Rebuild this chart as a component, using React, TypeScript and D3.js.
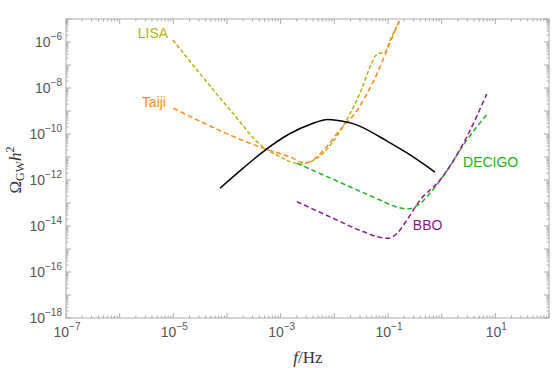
import React from 'react';
import * as d3 from 'd3';

// sensitivity curves, Omega_GW h^2 vs f [Hz]
const lisaF = [9.8e-6, 1.15e-4, 4.7e-4, 1e-3, 1.48e-3, 2.24e-3, 3.16e-3, 6.2e-3, 1.7e-2, 3.0e-2, 5.0e-2, 6.0e-2, 7.4e-2, 8.7e-2, 0.11, 0.166, 0.2];
const lisaOmega = [1.23e-6, 1.1e-9, 2.7e-11, 1e-11, 6.3e-12, 5.0e-12, 5.6e-12, 1.48e-11, 4.1e-10, 6.0e-9, 1.23e-7, 2.7e-7, 3.3e-7, 3.5e-7, 1.23e-6, 9.1e-6, 2.5e-5];

const taijiF = [1e-5, 4.7e-4, 1e-3, 1.48e-3, 2.8e-3, 3.5e-3, 7.2e-3, 1.26e-2, 2.6e-2, 3.98e-2, 6.2e-2, 9.5e-2, 0.166, 0.2];
const taijiOmega = [1.32e-9, 2.45e-11, 1.38e-11, 1.02e-11, 5.6e-12, 6.3e-12, 2.8e-11, 1.48e-10, 1.0e-9, 5.2e-9, 4.0e-8, 4.3e-7, 9.1e-6, 2.2e-5];

const decigoF = [2.0e-3, 8.3e-3, 7.1e-2, 0.135, 0.235, 0.394, 0.6, 1.05, 2.95, 7.3];
const decigoOmega = [5.4e-12, 1.23e-12, 1.35e-13, 7.1e-14, 5.5e-14, 9.5e-14, 2.6e-13, 1.38e-12, 5.5e-11, 8.1e-10];

const bboF = [2.0e-3, 8.3e-3, 3.5e-2, 7.1e-2, 0.1, 0.148, 0.224, 0.398, 0.93, 2.95, 6.9];
const bboOmega = [1.15e-13, 2.5e-14, 5.6e-15, 3.2e-15, 2.9e-15, 4.8e-15, 1.8e-14, 1.35e-13, 1e-12, 7.6e-11, 5.5e-9];

// signal spectrum (solid black)
const signalF = [7.4e-5, 2.0e-4, 5.3e-4, 1.5e-3, 3.5e-3, 7.6e-3, 1.7e-2, 2.6e-2, 7.1e-2, 0.109, 0.226, 0.75];
const signalOmega = [4.4e-13, 3.3e-12, 2.1e-11, 1.05e-10, 2.6e-10, 4.3e-10, 3.3e-10, 2.5e-10, 7.4e-11, 4.1e-11, 1.5e-11, 2.2e-12];

const xLabelExps = [-7, -5, -3, -1, 1];
const yLabelExps = [-18, -16, -14, -12, -10, -8, -6];

const W = 553, H = 368;
const L = 66, R = 549, T = 19, B = 318;
const tickColor = '#aaaaaa';
const labelFont = '"Liberation Sans", Arial, sans-serif';
const serif = '"Liberation Serif", "Times New Roman", serif';

const zip = (a: number[], b: number[]) => a.map((v, i) => [v, b[i]] as [number, number]);

export default function App() {
  const x = d3.scaleLog().domain([1e-7, 1e2]).range([L, R]);
  const y = d3.scaleLog().domain([1e-18, 1e-5]).range([B, T]);
  const line = d3.line<[number, number]>()
    .x(d => x(d[0]))
    .y(d => y(d[1]))
    .curve(d3.curveMonotoneX);

  const isMajor = (v: number) => Math.abs(Math.log10(v) - Math.round(Math.log10(v))) < 1e-6;

  const curves = [
    { name: 'LISA', d: zip(lisaF, lisaOmega), color: '#b3b31b', dash: '4,2.2' },
    { name: 'Taiji', d: zip(taijiF, taijiOmega), color: '#ff8c1a', dash: '5,3' },
    { name: 'DECIGO', d: zip(decigoF, decigoOmega), color: '#22b322', dash: '5,3' },
    { name: 'BBO', d: zip(bboF, bboOmega), color: '#8b1a8b', dash: '5,3' },
  ];

  const labels = [
    { text: 'LISA', f: 8e-6, o: 1.5e-6, anchor: 'end', color: '#b3b31b' },
    { text: 'Taiji', f: 7.3e-6, o: 1.5e-9, anchor: 'end', color: '#ff8c1a' },
    { text: 'DECIGO', f: 2.5, o: 3.8e-12, anchor: 'start', color: '#22b322' },
    { text: 'BBO', f: 0.29, o: 6.8e-15, anchor: 'start', color: '#8b1a8b' },
  ];

  const xTicks = x.ticks(100);
  const yTicks = y.ticks(100);

  return (
    <svg width={W} height={H} style={{ position: 'absolute', left: 0, top: 0, background: '#fff' }}>
      <defs>
        <clipPath id="plot">
          <rect x={L} y={T} width={R - L} height={B - T} />
        </clipPath>
      </defs>

      {/* frame ticks, all four sides */}
      <g stroke={tickColor} strokeWidth={1}>
        {xTicks.map((v, i) => {
          const len = isMajor(v) ? 5 : 2.5;
          const px = x(v);
          return (
            <g key={'x' + i}>
              <line x1={px} x2={px} y1={B} y2={B - len} />
              <line x1={px} x2={px} y1={T} y2={T + len} />
            </g>
          );
        })}
        {yTicks.map((v, i) => {
          const len = isMajor(v) ? 5 : 2.5;
          const py = y(v);
          return (
            <g key={'y' + i}>
              <line x1={L} x2={L + len} y1={py} y2={py} />
              <line x1={R} x2={R - len} y1={py} y2={py} />
            </g>
          );
        })}
      </g>
      <rect x={L} y={T} width={R - L} height={B - T} fill="none" stroke={tickColor} strokeWidth={1} />

      {/* tick labels */}
      <g fill="#555" fontFamily={labelFont} fontSize={14}>
        {xLabelExps.map(e => (
          <text key={'xl' + e} x={x(Math.pow(10, e)) + 1} y={337} textAnchor="middle">
            10<tspan dy={-7} fontSize={10}>{e < 0 ? '\u2212' + -e : e}</tspan>
          </text>
        ))}
        {yLabelExps.map(e => (
          <text key={'yl' + e} x={62} y={y(Math.pow(10, e)) + 5} textAnchor="end">
            10<tspan dy={-7} fontSize={10}>{'\u2212' + -e}</tspan>
          </text>
        ))}
      </g>

      {/* axis titles */}
      <text x={308} y={363} textAnchor="middle" fontFamily={serif} fontSize={17} fill="#333">
        <tspan fontStyle="italic">f</tspan>/Hz
      </text>
      <text transform="translate(21,170) rotate(-90)" textAnchor="middle" fontFamily={serif} fontSize={17} fill="#333">
        {'\u03A9'}<tspan fontSize={12} dy={3}>GW</tspan><tspan fontStyle="italic" dy={-3}>h</tspan><tspan fontSize={12} dy={-7}>2</tspan>
      </text>

      {/* curves */}
      <g clipPath="url(#plot)" fill="none">
        {curves.map(c => (
          <path key={c.name} d={line(c.d) || ''} stroke={c.color} strokeWidth={1.5} strokeDasharray={c.dash} />
        ))}
        <path d={line(zip(signalF, signalOmega)) || ''} stroke="#000" strokeWidth={1.5} />
      </g>

      {/* curve labels */}
      <g fontFamily={labelFont} fontSize={14}>
        {labels.map(l => (
          <text key={l.text} x={x(l.f)} y={y(l.o)} textAnchor={l.anchor} fill={l.color}>{l.text}</text>
        ))}
      </g>
    </svg>
  );
}
